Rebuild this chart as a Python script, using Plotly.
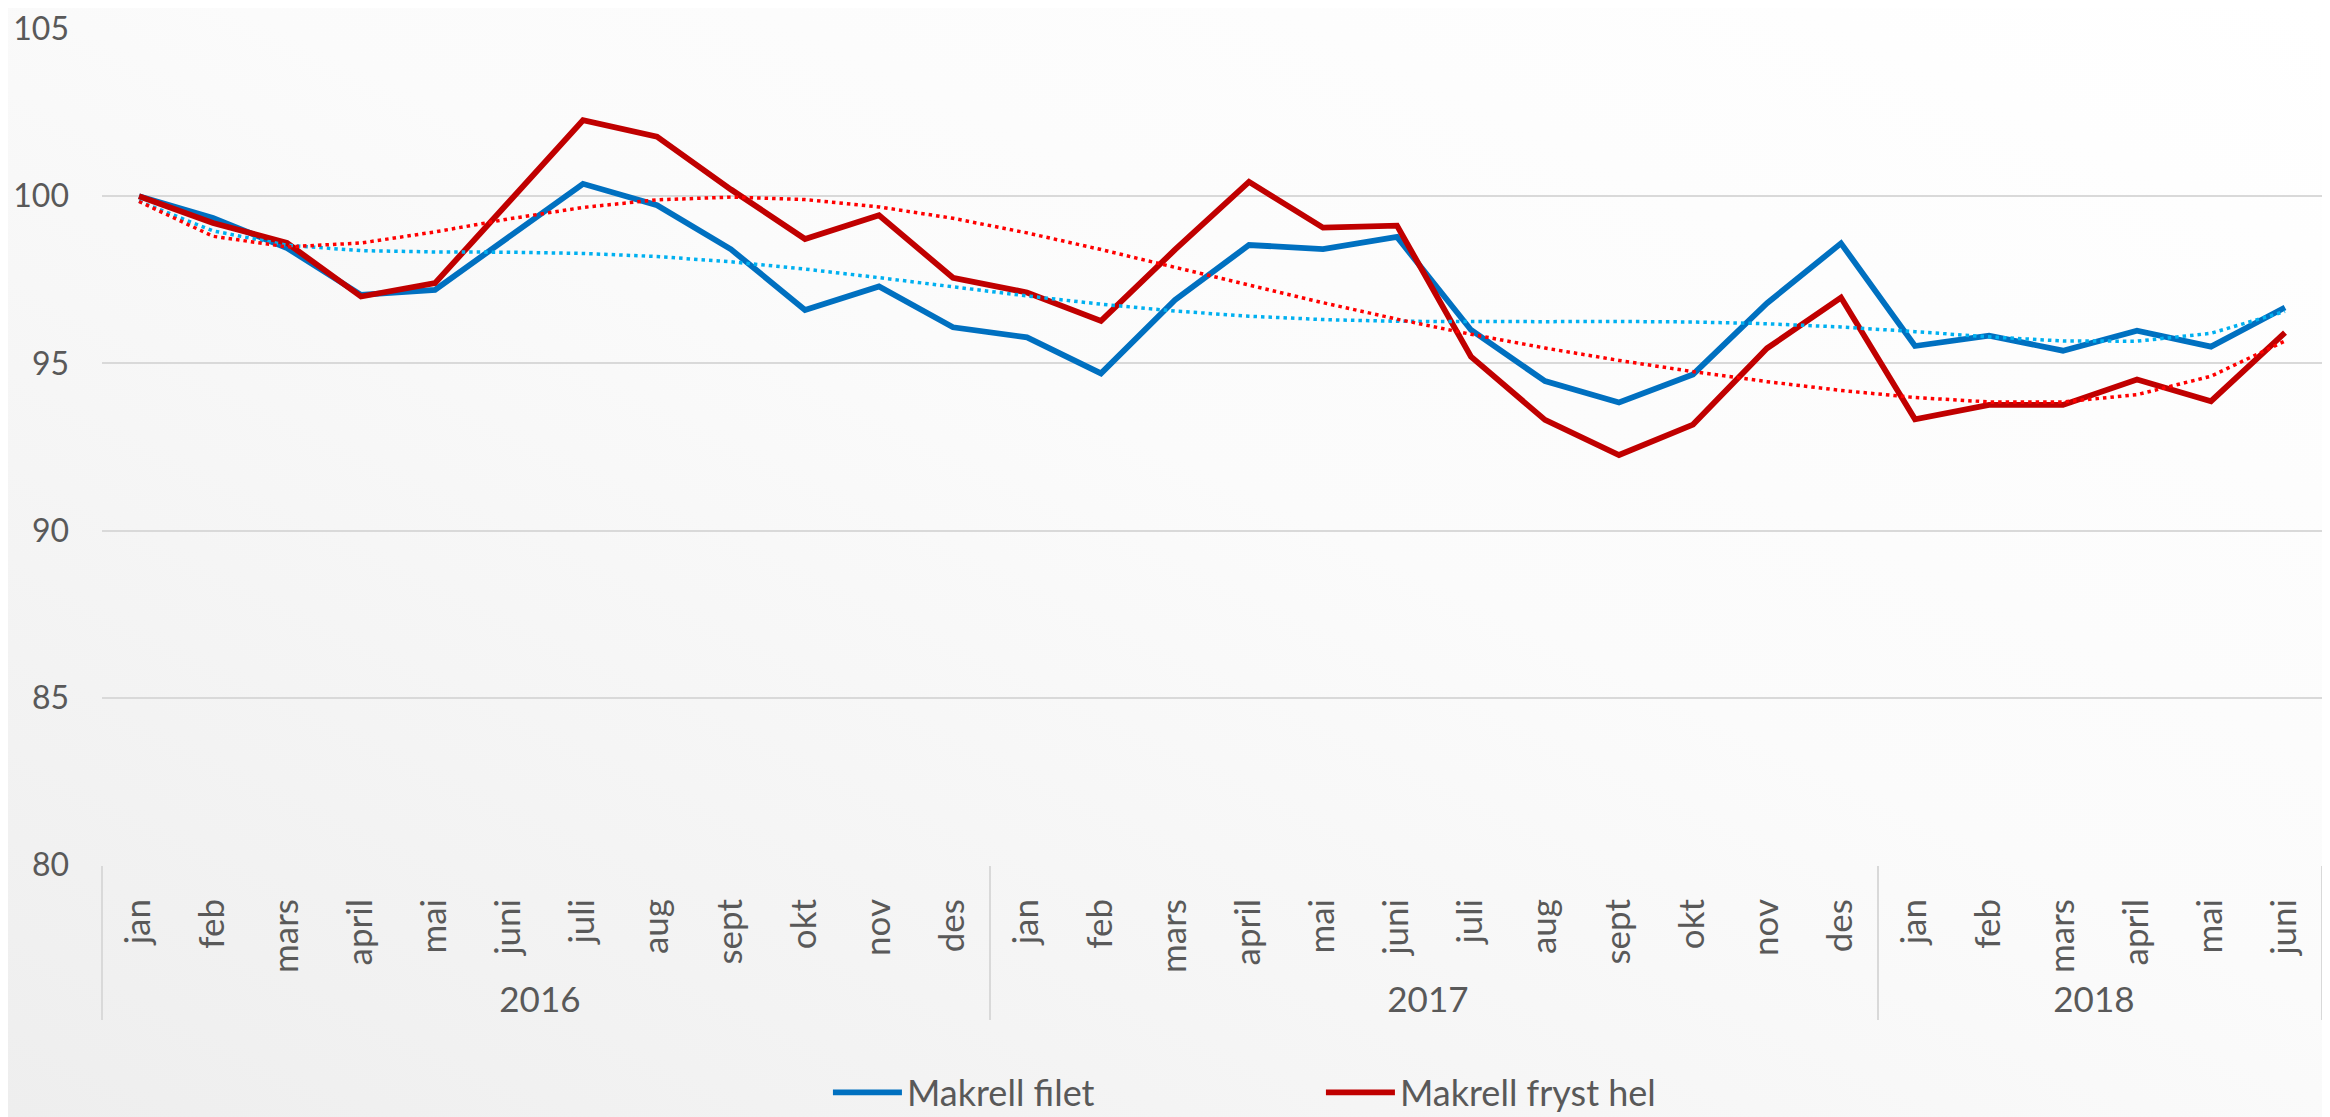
import base64
import numpy as np
import plotly.graph_objects as go

years = ["2016"] * 12 + ["2017"] * 12 + ["2018"] * 6
month_names = ["jan", "feb", "mars", "april", "mai", "juni",
               "juli", "aug", "sept", "okt", "nov", "des"]
months = month_names + month_names + month_names[:6]

makrell_filet = [100.0, 99.35, 98.45, 97.05, 97.2, 98.8, 100.37, 99.73, 98.41, 96.6, 97.3, 96.08,
                 95.78, 94.7, 96.9, 98.54, 98.42, 98.78, 96.0, 94.47, 93.83, 94.67, 96.8, 98.59,
                 95.52, 95.83, 95.38, 95.98, 95.5, 96.67]
makrell_fryst = [100.0, 99.2, 98.6, 97.0, 97.4, 99.85, 102.27, 101.78, 100.2, 98.72, 99.43, 97.56,
                 97.12, 96.27, 98.4, 100.43, 99.06, 99.12, 95.2, 93.31, 92.26, 93.17, 95.45, 96.97,
                 93.33, 93.76, 93.76, 94.52, 93.87, 95.92]

series_names = ["Makrell filet", "Makrell fryst hel"]
y_ticks = [80, 85, 90, 95, 100, 105]

# polynomial trendlines (order 6), computed from the series as the spreadsheet does
xi = np.arange(1, len(months) + 1, dtype=float)
def trend(vals, order=6):
    c = np.polyfit(xi, np.array(vals), order)
    return np.polyval(c, xi)

trend_filet = trend(makrell_filet)
trend_fryst = trend(makrell_fryst)

x = [years, months]

fig = go.Figure()
fig.add_trace(go.Scatter(x=x, y=makrell_filet, mode="lines", name=series_names[0],
                         line=dict(color="#0070C0", width=5.8)))
fig.add_trace(go.Scatter(x=x, y=makrell_fryst, mode="lines", name=series_names[1],
                         line=dict(color="#C00000", width=5.8)))
fig.add_trace(go.Scatter(x=x, y=trend_filet, mode="lines", showlegend=False, hoverinfo="skip",
                         line=dict(color="#00B0F0", width=3.5, dash="3.5px,4px")))
fig.add_trace(go.Scatter(x=x, y=trend_fryst, mode="lines", showlegend=False, hoverinfo="skip",
                         line=dict(color="#FF0000", width=3.5, dash="3.5px,4px")))

# the page body adds an 8px margin, so the figure is 8px smaller than the window
W, H = 2322, 1109
ml, mr, mt, mb = 94, 8, 21, 252
pw, ph = W - ml - mr, H - mt - mb

svg = ("<svg xmlns='http://www.w3.org/2000/svg' width='200' height='100' preserveAspectRatio='none'>"
       "<defs><linearGradient id='g' x1='0' y1='1' x2='1' y2='0'>"
       "<stop offset='0' stop-color='#eeeeee'/><stop offset='0.55' stop-color='#fbfbfb'/>"
       "<stop offset='1' stop-color='#ffffff'/></linearGradient></defs>"
       "<rect width='200' height='100' fill='url(#g)'/></svg>")
src = "data:image/svg+xml;base64," + base64.b64encode(svg.encode()).decode()

font_family = "Lato, 'Liberation Sans', sans-serif"

fig.update_layout(
    width=W, height=H,
    margin=dict(l=ml, r=mr, t=mt, b=mb, autoexpand=False),
    paper_bgcolor="#f7f7f7",
    plot_bgcolor="rgba(0,0,0,0)",
    font=dict(family=font_family, color="#595959", size=33),
    images=[dict(source=src, xref="paper", yref="paper",
                 x=-ml / pw, y=1 + mt / ph, sizex=W / pw, sizey=H / ph,
                 xanchor="left", yanchor="top", sizing="stretch", layer="below")],
    showlegend=True,
    legend=dict(orientation="h", x=0.327, xanchor="left", y=-0.272, yanchor="middle",
                font=dict(size=36, color="#595959"), itemwidth=69,
                entrywidth=409, entrywidthmode="pixels",
                bgcolor="rgba(0,0,0,0)"),
    xaxis=dict(type="multicategory", tickangle=-90, showgrid=False, showline=False,
               range=[-0.5, 29.5],
               showdividers=True, dividercolor="#d9d9d9", dividerwidth=2,
               ticklabelstandoff=26,
               tickfont=dict(size=35, color="#595959", family=font_family), ticks=""),
    yaxis=dict(range=[80, 105], tickvals=y_ticks, showgrid=True, gridcolor="#d9d9d9",
               gridwidth=2, zeroline=False, showline=False, ticklabelstandoff=32,
               ticklabeloverflow="allow",
               tickfont=dict(size=32, color="#595959", family=font_family)),
)

fig.write_html("out.html")
